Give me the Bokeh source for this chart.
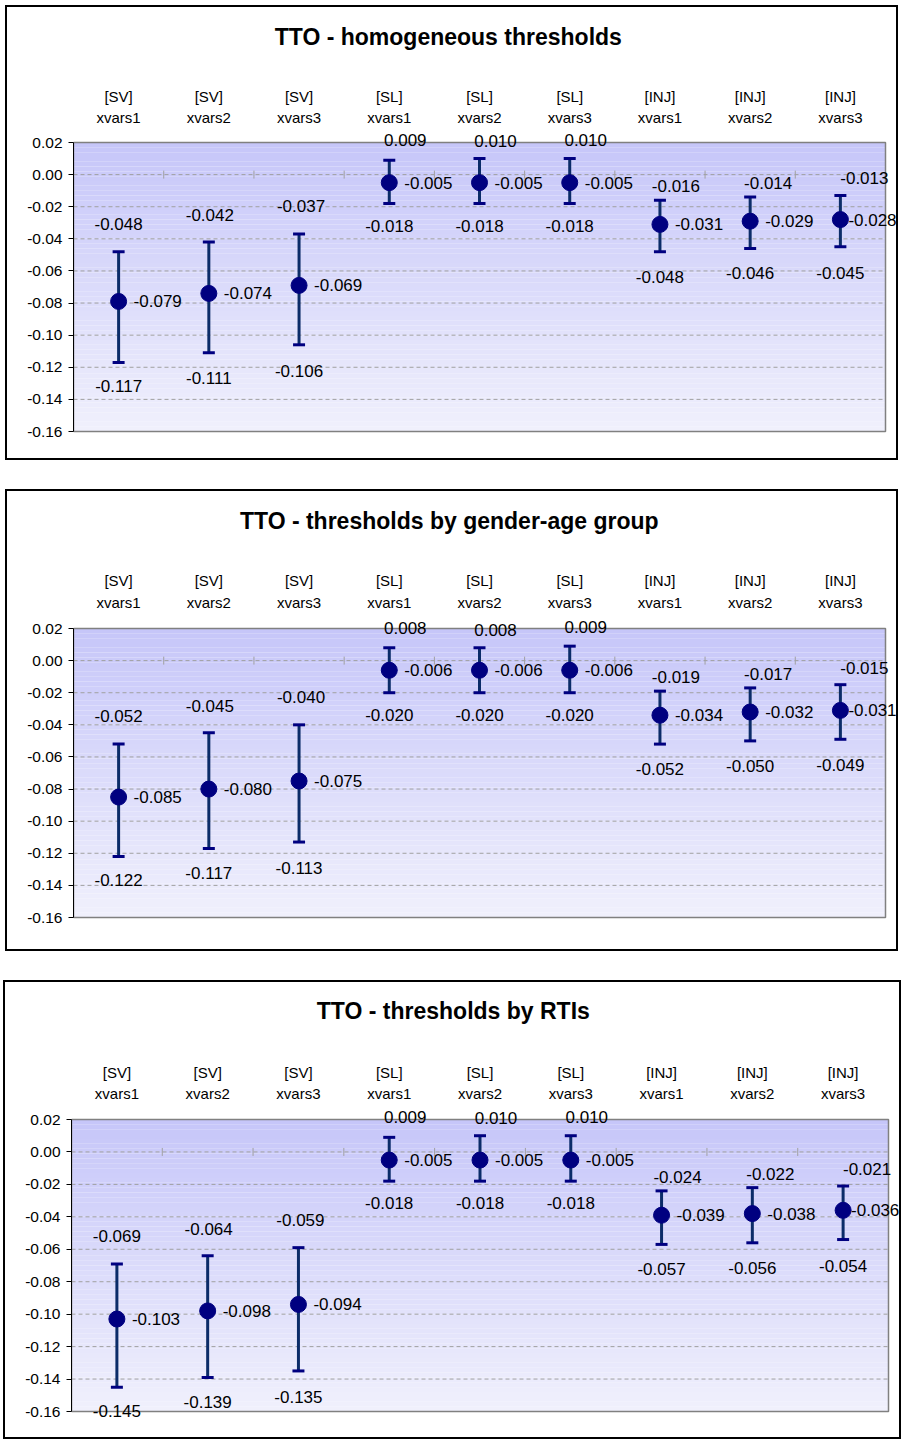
import numpy as np
from bokeh.plotting import figure
from bokeh.layouts import column
from bokeh.models import (Range1d, FixedTicker, NumeralTickFormatter, ColumnDataSource, LabelSet)
from bokeh.core.properties import value
from bokeh.embed import file_html
from bokeh.resources import INLINE

# ---------------- data ----------------
groups = ["[SV]", "[SV]", "[SV]", "[SL]", "[SL]", "[SL]", "[INJ]", "[INJ]", "[INJ]"]
variants = ["xvars1", "xvars2", "xvars3"] * 3
y_ticks = [0.02, 0.00, -0.02, -0.04, -0.06, -0.08, -0.10, -0.12, -0.14, -0.16]

titles = ["TTO  - homogeneous thresholds",
          "TTO  - thresholds by gender-age group",
          "TTO  - thresholds by RTIs"]

hom_hi = [-0.048, -0.042, -0.037, 0.009, 0.010, 0.010, -0.016, -0.014, -0.013]
hom_mid = [-0.079, -0.074, -0.069, -0.005, -0.005, -0.005, -0.031, -0.029, -0.028]
hom_lo = [-0.117, -0.111, -0.106, -0.018, -0.018, -0.018, -0.048, -0.046, -0.045]

ga_hi = [-0.052, -0.045, -0.040, 0.008, 0.008, 0.009, -0.019, -0.017, -0.015]
ga_mid = [-0.085, -0.080, -0.075, -0.006, -0.006, -0.006, -0.034, -0.032, -0.031]
ga_lo = [-0.122, -0.117, -0.113, -0.020, -0.020, -0.020, -0.052, -0.050, -0.049]

rti_hi = [-0.069, -0.064, -0.059, 0.009, 0.010, 0.010, -0.024, -0.022, -0.021]
rti_mid = [-0.103, -0.098, -0.094, -0.005, -0.005, -0.005, -0.039, -0.038, -0.036]
rti_lo = [-0.145, -0.139, -0.135, -0.018, -0.018, -0.018, -0.057, -0.056, -0.054]

# ---------------- style (label placement, px) ----------------
hi_dx = [0, 1, 2, 16, 16, 16, 16, 18, 24]
hi_dy = [28, 27, 28, 20, 18, 19, 14, 14, 17]
lo_dy = [24, 25, 26, 22, 22, 22, 25, 25, 26]
mid_dx = [15, 15, 15, 15, 15, 15, 15, 15, 8]

FONT = "Liberation Sans"
BAR = "#0b2c68"
DOT = "#000080"
GRID = "#a0a0a0"


def make_panel(title, hi, mid, lo, box, area, title_pos, cat_px, margin):
    """box = (W, H); area = plot-area (left, top, width, height) in canvas px."""
    W, H = box
    al, at, aw, ah = area
    tcx, tpx = title_pos
    n = len(groups)
    xs = list(range(1, n + 1))
    x0, x1 = 0.5, n + 0.5
    ylo, yhi = y_ticks[-1], y_ticks[0]
    ux = (x1 - x0) / aw          # data units per px
    uy = (yhi - ylo) / ah
    mright = 3
    mbottom = 4
    fr_w = W - al - mright
    fr_bot = H - mbottom
    xr = Range1d(x0, x0 + fr_w * ux)
    yr = Range1d(yhi - (fr_bot - at) * uy, yhi + at * uy)
    p = figure(width=W, height=H, x_range=xr, y_range=yr,
               output_backend="svg", toolbar_location=None,
               x_axis_location=None, y_axis_location="left",
               min_border_left=al, min_border_right=mright,
               min_border_top=0, min_border_bottom=mbottom,
               margin=margin)
    p.styles = {"border": "2px solid #000000"}
    p.background_fill_color = "#ffffff"
    p.border_fill_color = "#ffffff"
    p.outline_line_color = None
    p.xgrid.visible = False
    p.ygrid.visible = False

    # gradient background of the plot area (decoration)
    nb = 60
    edges = np.linspace(ylo, yhi, nb + 1)
    top_c = np.array([198, 198, 249])
    bot_c = np.array([240, 240, 252])
    cols = []
    for i in range(nb):
        t = (i + 0.5) / nb
        c = bot_c + (top_c - bot_c) * t
        cols.append("#%02x%02x%02x" % tuple(int(round(v)) for v in c))
    p.quad(left=x0, right=x1, bottom=edges[:-1], top=edges[1:],
           fill_color=cols, line_color=None, level="image")

    # dashed gridlines and plot-area border
    p.segment(x0=[x0] * len(y_ticks), x1=[x1] * len(y_ticks), y0=y_ticks, y1=y_ticks,
              line_color=GRID, line_dash="4 3", line_width=1, level="underlay")
    p.quad(left=x0, right=x1, bottom=ylo, top=yhi, fill_color=None,
           line_color="#808080", line_width=1.5, level="underlay")

    # y axis (library axis, limited to the plot area)
    p.yaxis.bounds = (ylo, yhi)
    p.yaxis.ticker = FixedTicker(ticks=y_ticks)
    p.yaxis.formatter = NumeralTickFormatter(format="0.00")
    p.yaxis.axis_label = None
    p.yaxis.minor_tick_line_color = None
    p.yaxis.major_tick_out = 5
    p.yaxis.major_tick_in = 0
    p.yaxis.axis_line_color = "#000000"
    p.yaxis.major_tick_line_color = "#000000"
    p.yaxis.major_label_text_font = FONT
    p.yaxis.major_label_text_font_size = "15.5px"
    p.yaxis.major_label_text_color = "#000000"
    p.yaxis.major_label_standoff = 6

    # title and category labels above the plot area
    p.text(x=[x0 + (tcx - al) * ux], y=[yhi + tpx * uy], text=[title],
           text_font=value(FONT), text_font_size="23px", text_font_style="bold",
           text_color="#000000", text_align="center", text_baseline="middle")
    p.text(x=xs, y=[yhi + cat_px[0] * uy] * n, text=variants,
           text_font=value(FONT), text_font_size="15px", text_color="#000000",
           text_align="center", text_baseline="middle")
    p.text(x=xs, y=[yhi + cat_px[1] * uy] * n, text=groups,
           text_font=value(FONT), text_font_size="15px", text_color="#000000",
           text_align="center", text_baseline="middle")

    # category boundary ticks on the zero line
    bx = [x + 0.5 for x in xs[:-1]]
    p.scatter(x=bx, y=[0.0] * len(bx), marker="dash", angle=np.pi / 2, size=8,
              line_color=GRID, line_width=1)

    src = ColumnDataSource(dict(
        x=xs, hi=hi, mid=mid, lo=lo,
        hi_t=["%.3f" % v for v in hi],
        mid_t=["%.3f" % v for v in mid],
        lo_t=["%.3f" % v for v in lo],
        hi_dx=hi_dx, hi_dy=hi_dy, lo_dy=[-v for v in lo_dy], mid_dx=mid_dx))

    p.segment(x0="x", y0="lo", x1="x", y1="hi", source=src, line_color=BAR, line_width=3)
    p.scatter(x="x", y="hi", source=src, marker="dash", size=12, line_color=DOT, line_width=3)
    p.scatter(x="x", y="lo", source=src, marker="dash", size=12, line_color=DOT, line_width=3)
    p.scatter(x="x", y="mid", source=src, marker="circle", size=16,
              fill_color=DOT, line_color=DOT)

    common = dict(source=src, text_font=value(FONT), text_font_size=value("17px"),
                  text_color="#000000", text_baseline="middle")
    p.add_layout(LabelSet(x="x", y="hi", text="hi_t", x_offset="hi_dx", y_offset="hi_dy",
                          text_align="center", **common))
    p.add_layout(LabelSet(x="x", y="lo", text="lo_t", x_offset=0, y_offset="lo_dy",
                          text_align="center", **common))
    p.add_layout(LabelSet(x="x", y="mid", text="mid_t", x_offset="mid_dx", y_offset=0,
                          text_align="left", **common))
    return p


p1 = make_panel(titles[0], hom_hi, hom_mid, hom_lo, (893, 455), (66, 135, 812, 289),
                (444, 106), (25, 46), (5, 0, 0, 5))
p2 = make_panel(titles[1], ga_hi, ga_mid, ga_lo, (893, 462), (66, 137, 812, 289),
                (445, 108), (26, 48), (29, 0, 0, 5))
p3 = make_panel(titles[2], rti_hi, rti_mid, rti_lo, (898, 459), (66, 137, 817, 292),
                (451, 109), (26, 47), (29, 0, 0, 3))

layout = column(p1, p2, p3, spacing=0)
open("out.html", "w").write(file_html(layout, INLINE))
